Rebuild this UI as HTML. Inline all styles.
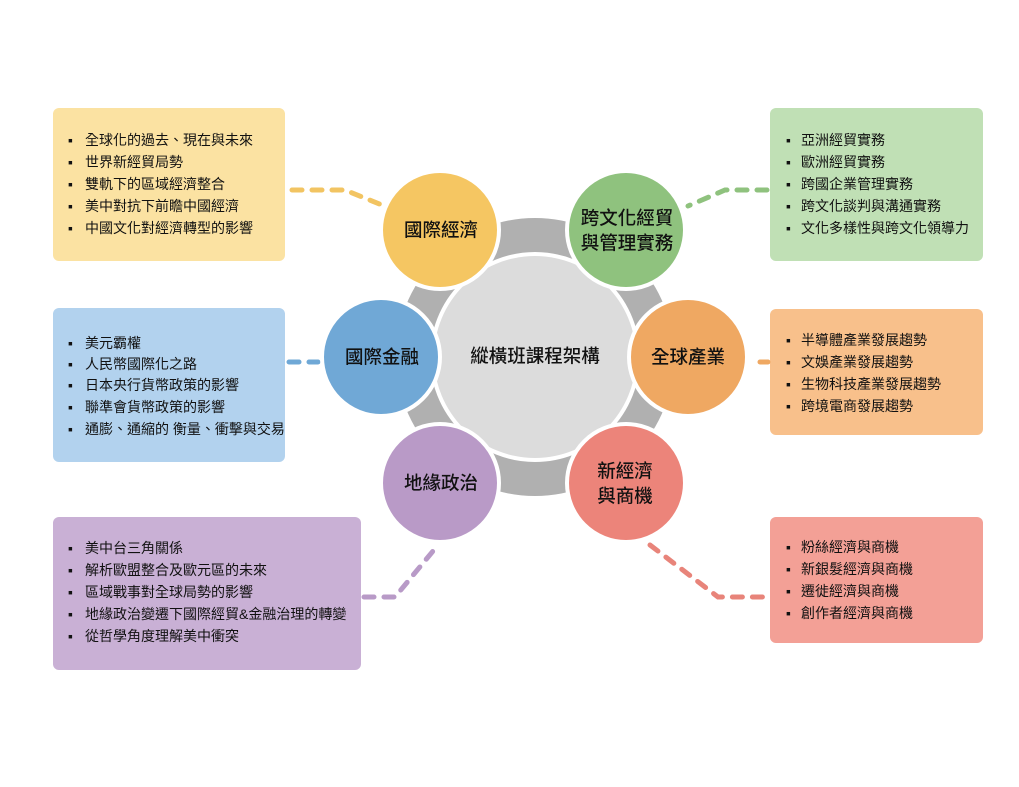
<!DOCTYPE html>
<html><head><meta charset="utf-8"><style>
html,body{margin:0;padding:0;background:#fff;}
svg text{font-family:"Liberation Sans","Noto Sans CJK TC",sans-serif;}
.b{font-size:14px;fill:#111;}
.c{font-size:18.5px;fill:#111;text-anchor:middle;dominant-baseline:central;font-weight:500;}
</style></head><body>
<svg width="1019" height="782" viewBox="0 0 1019 782" xmlns="http://www.w3.org/2000/svg">
<rect x="53" y="108" width="232" height="153" rx="6" fill="#fbe2a2"/>
<rect x="770" y="108" width="213" height="153" rx="6" fill="#c0e0b5"/>
<rect x="53" y="308" width="232" height="154" rx="6" fill="#b2d2ee"/>
<rect x="770" y="309" width="213" height="126" rx="6" fill="#f8c08b"/>
<rect x="53" y="517" width="308" height="153" rx="6" fill="#c9b0d5"/>
<rect x="770" y="517" width="213" height="126" rx="6" fill="#f3a096"/>
<g fill="none" stroke-width="5" stroke-linecap="round" stroke-dasharray="10 10">
<polyline points="292,190 345,190 382,205" stroke="#f2c462"/>
<polyline points="767,190 725,190 688,206" stroke="#8fc27e"/>
<polyline points="289,362 318,362" stroke="#6fa8d6"/>
<polyline points="760,362 768,362" stroke="#efa862"/>
<polyline points="364,597 395,597 438,545" stroke="#b89ac7"/>
<polyline points="650,545 718,597 767,597" stroke="#e8847a"/>
</g>
<circle cx="535" cy="357" r="122" fill="none" stroke="#b0b0b0" stroke-width="34"/>
<circle cx="535" cy="357" r="104" fill="#fff"/>
<circle cx="535" cy="357" r="101" fill="#dcdcdc"/>
<g stroke="#fff" stroke-width="4">
<circle cx="440" cy="230" r="59" fill="#f5c662"/>
<circle cx="626" cy="230" r="59" fill="#8fc27e"/>
<circle cx="381" cy="357" r="59" fill="#70a8d6"/>
<circle cx="688" cy="357" r="59" fill="#efa862"/>
<circle cx="440" cy="483" r="59" fill="#b99ac7"/>
<circle cx="626" cy="483" r="59" fill="#ec847a"/>
</g>
<text class="c" x="535" y="356">縱橫班課程架構</text>
<text class="c" x="441" y="230">國際經濟</text>
<text class="c" x="627" y="218">跨文化經貿</text>
<text class="c" x="627" y="243">與管理實務</text>
<text class="c" x="382" y="357">國際金融</text>
<text class="c" x="688" y="357">全球產業</text>
<text class="c" x="441" y="483">地緣政治</text>
<text class="c" x="625" y="471">新經濟</text>
<text class="c" x="625" y="496">與商機</text>
<g class="b">
<text x="68" y="145">▪</text><text x="85" y="145">全球化的過去、現在與未來</text>
<text x="68" y="167">▪</text><text x="85" y="167">世界新經貿局勢</text>
<text x="68" y="189">▪</text><text x="85" y="189">雙軌下的區域經濟整合</text>
<text x="68" y="211">▪</text><text x="85" y="211">美中對抗下前瞻中國經濟</text>
<text x="68" y="233">▪</text><text x="85" y="233">中國文化對經濟轉型的影響</text>

<text x="786" y="145">▪</text><text x="801" y="145">亞洲經貿實務</text>
<text x="786" y="167">▪</text><text x="801" y="167">歐洲經貿實務</text>
<text x="786" y="189">▪</text><text x="801" y="189">跨國企業管理實務</text>
<text x="786" y="211">▪</text><text x="801" y="211">跨文化談判與溝通實務</text>
<text x="786" y="233">▪</text><text x="801" y="233">文化多樣性與跨文化領導力</text>

<text x="68" y="348">▪</text><text x="85" y="348">美元霸權</text>
<text x="68" y="369">▪</text><text x="85" y="369">人民幣國際化之路</text>
<text x="68" y="390">▪</text><text x="85" y="390">日本央行貨幣政策的影響</text>
<text x="68" y="412">▪</text><text x="85" y="412">聯準會貨幣政策的影響</text>
<text x="68" y="434">▪</text><text x="85" y="434">通膨、通縮的 衡量、衝擊與交易</text>

<text x="786" y="345">▪</text><text x="801" y="345">半導體產業發展趨勢</text>
<text x="786" y="367">▪</text><text x="801" y="367">文娛產業發展趨勢</text>
<text x="786" y="389">▪</text><text x="801" y="389">生物科技產業發展趨勢</text>
<text x="786" y="411">▪</text><text x="801" y="411">跨境電商發展趨勢</text>

<text x="68" y="553">▪</text><text x="85" y="553">美中台三角關係</text>
<text x="68" y="575">▪</text><text x="85" y="575">解析歐盟整合及歐元區的未來</text>
<text x="68" y="597">▪</text><text x="85" y="597">區域戰事對全球局勢的影響</text>
<text x="68" y="619">▪</text><text x="85" y="619">地緣政治變遷下國際經貿&amp;金融治理的轉變</text>
<text x="68" y="641">▪</text><text x="85" y="641">從哲學角度理解美中衝突</text>

<text x="786" y="552">▪</text><text x="801" y="552">粉絲經濟與商機</text>
<text x="786" y="574">▪</text><text x="801" y="574">新銀髮經濟與商機</text>
<text x="786" y="596">▪</text><text x="801" y="596">遷徙經濟與商機</text>
<text x="786" y="618">▪</text><text x="801" y="618">創作者經濟與商機</text>
</g>
</svg>
</body></html>
